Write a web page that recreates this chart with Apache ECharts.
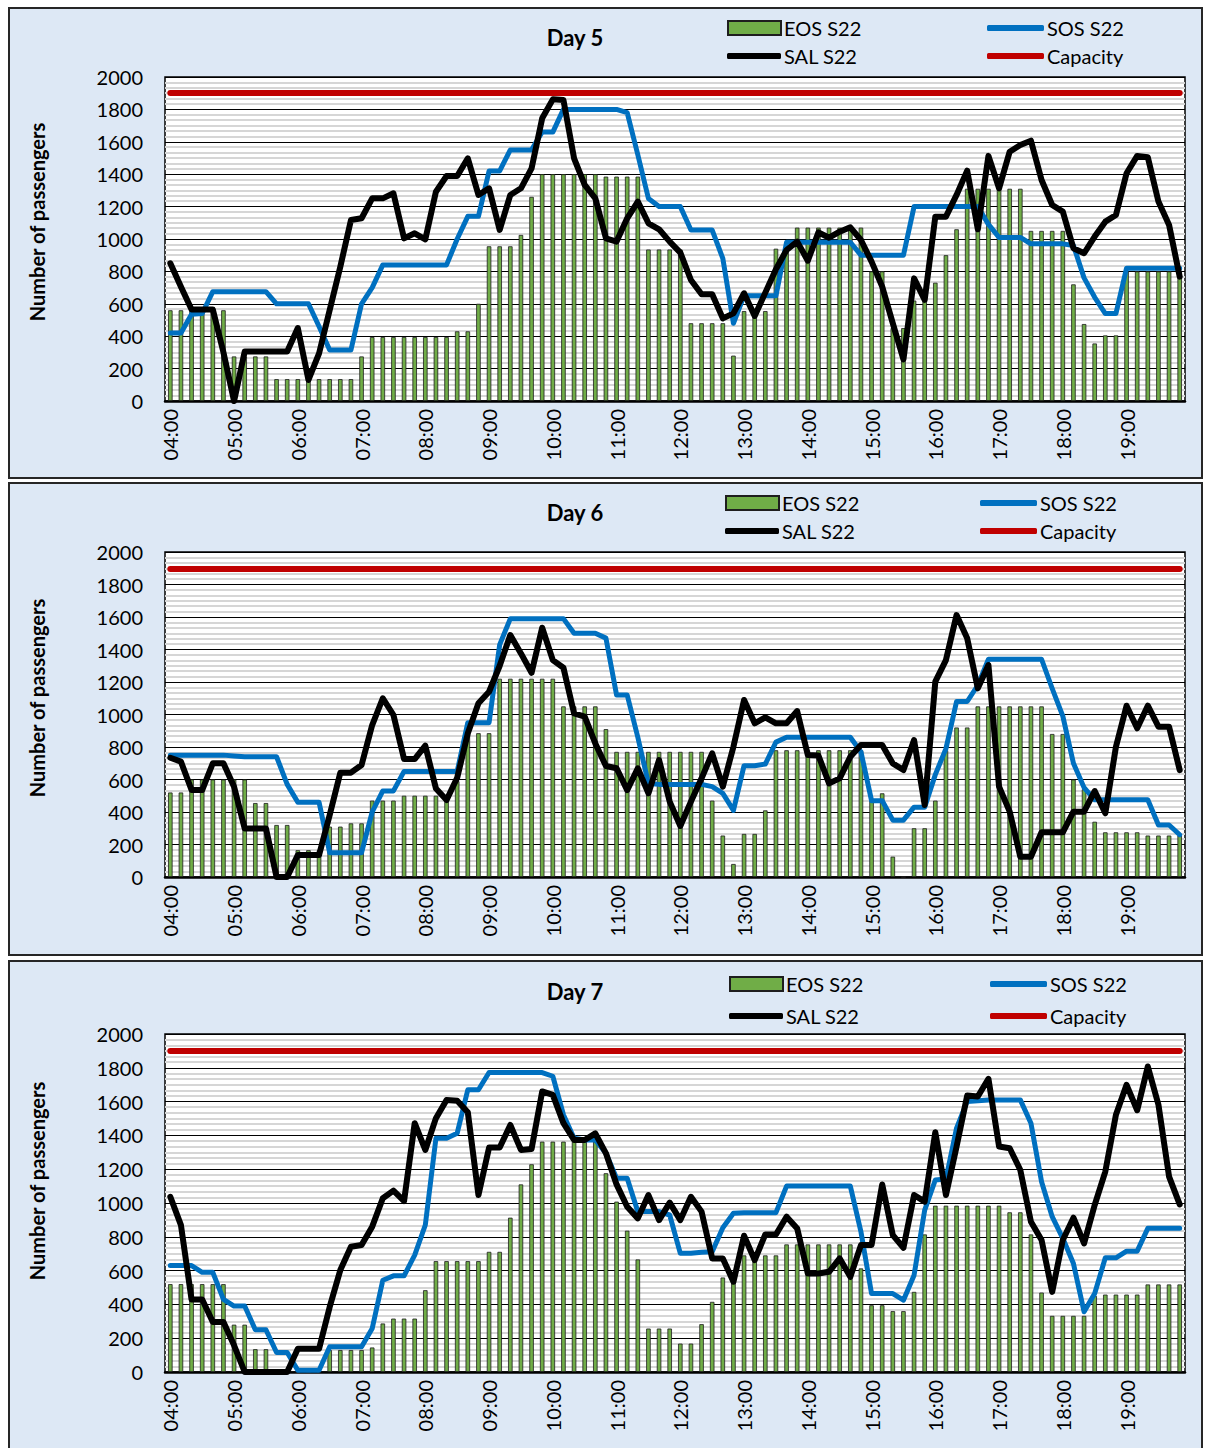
<!DOCTYPE html>
<html>
<head>
<meta charset="utf-8">
<script src="https://cdn.jsdelivr.net/npm/echarts@6/dist/echarts.min.js"></script>
<style>
  html, body { margin: 0; padding: 0; background: #fff; }
  #wrap { position: relative; width: 1215px; height: 1448px; overflow: hidden; }
  .panel { position: absolute; left: 8px; width: 1195px; box-sizing: border-box; background: #dde8f5; border: 2px solid #262626; }
  #chart { position: absolute; left: 0; top: 0; width: 1215px; height: 1448px; }
</style>
</head>
<body>
<div id="wrap">
  <div class="panel" style="top:7px;height:472px"></div>
  <div class="panel" style="top:482px;height:474px"></div>
  <div class="panel" style="top:960px;height:500px"></div>
  <div id="chart"></div>
</div>
<script>
// 10 minute slots, 04:00 .. 19:50
var times = [];
for (var h = 4; h < 20; h++) {
  for (var m = 0; m < 60; m += 10) {
    times.push((h < 10 ? '0' : '') + h + ':' + (m < 10 ? '0' : '') + m);
  }
}
var dayTitles = ['Day 5', 'Day 6', 'Day 7'];
var capacity = 1900;

// Day 5
var day5Eos = [560,560,560,560,560,560,275,275,275,275,135,135,135,135,135,135,135,135,275,395,395,395,395,395,395,395,395,430,430,600,955,955,
  955,1025,1260,1400,1400,1400,1400,1400,1400,1385,1385,1385,1385,935,935,935,935,480,480,480,480,280,555,555,555,940,940,1070,1070,1070,1070,1070,
  1070,1070,800,800,450,450,620,660,730,900,1060,1310,1310,1310,1310,1310,1310,1050,1050,1050,1050,720,475,355,405,405,800,800,800,800,800,800];
var day5Sos = [420,420,535,540,675,675,675,675,675,675,600,600,600,600,460,315,315,315,600,700,840,840,840,840,840,840,840,1000,1140,1140,1420,1420,
  1550,1550,1550,1660,1660,1800,1800,1800,1800,1800,1800,1780,1520,1250,1200,1200,1200,1055,1055,1055,880,480,650,650,650,650,980,980,980,980,980,980,
  980,900,900,900,900,900,1200,1200,1200,1200,1200,1200,1200,1090,1010,1010,1010,970,970,970,970,960,760,640,540,540,820,820,820,820,820,820];
var day5Sal = [850,705,565,565,565,300,0,305,305,305,305,305,450,130,294,562,829,1117,1128,1251,1251,1282,1004,1035,998,1292,1389,1389,1498,1272,1313,1056,
  1272,1313,1436,1745,1862,1858,1498,1334,1251,1004,984,1128,1231,1097,1060,984,916,747,659,659,510,541,665,525,669,813,932,984,866,1041,1008,1045,
  1072,994,860,706,479,257,757,624,1138,1138,1272,1422,1060,1513,1313,1539,1580,1607,1364,1210,1169,943,912,1015,1107,1148,1406,1513,1505,1231,1087,768];

// Day 6
var day6Eos = [520,520,600,600,600,600,600,600,455,455,320,320,165,165,165,310,310,330,330,470,470,470,500,500,500,500,500,590,885,885,885,1220,
  1220,1220,1220,1220,1220,1050,1050,1050,1050,910,770,770,770,770,770,770,770,770,770,470,255,80,265,265,410,780,780,780,780,780,780,780,
  780,780,470,515,125,0,300,300,470,780,920,920,1050,1050,1050,1050,1050,1050,1050,880,880,600,540,340,275,275,275,275,255,255,255,255];
var day6Sos = [750,750,750,750,750,750,745,740,740,740,740,570,460,460,460,150,150,150,150,400,530,530,650,650,650,650,650,650,950,950,950,1430,
  1590,1590,1590,1590,1590,1590,1500,1500,1500,1470,1120,1120,860,575,570,570,570,570,570,556,515,410,685,685,695,830,860,860,860,860,860,860,
  860,770,470,470,350,350,430,430,630,790,1080,1080,1180,1340,1340,1340,1340,1340,1340,1160,990,700,550,475,475,475,475,475,475,320,320,260];
var day6Sal = [734,710,535,535,700,700,556,299,299,299,0,0,135,135,135,381,642,642,689,935,1100,997,726,726,808,545,474,611,884,1069,1140,1300,
  1489,1376,1257,1534,1335,1288,1007,987,822,683,669,535,669,515,720,464,314,464,607,761,556,802,1089,946,982,946,946,1021,751,747,576,607,
  740,812,812,812,699,658,843,443,1202,1335,1612,1469,1161,1304,556,402,125,125,275,275,275,402,402,529,392,802,1054,915,1054,925,925,658];

// Day 7
var day7Eos = [520,520,520,520,520,520,280,280,135,135,0,0,0,0,0,130,130,130,130,145,287,316,316,316,484,656,656,656,656,656,711,711,
  913,1110,1229,1363,1363,1363,1363,1363,1363,1176,1008,836,666,257,257,257,168,168,283,415,559,560,690,690,690,690,755,755,755,755,755,755,
  755,613,395,395,360,360,474,814,984,984,984,984,984,984,984,945,945,814,470,332,332,332,332,450,458,458,458,458,518,518,518,518];
var day7Sos = [630,630,630,590,590,430,390,390,250,250,115,115,10,10,10,150,150,150,150,257,543,569,569,692,870,1383,1383,1413,1670,1670,1772,1772,
  1772,1772,1772,1772,1750,1522,1383,1373,1373,1294,1146,1146,949,949,949,929,702,702,708,711,854,939,943,943,943,943,1100,1100,1100,1100,1100,1100,
  1100,830,464,464,464,425,573,958,1136,1142,1443,1601,1605,1610,1610,1610,1610,1472,1126,919,791,642,356,464,676,676,715,715,850,850,850,850];
var day7Sal = [1037,869,429,429,296,296,158,0,0,0,0,0,138,138,138,385,603,741,751,860,1028,1073,1012,1472,1314,1502,1610,1605,1537,1047,1328,1328,
  1462,1314,1320,1660,1640,1472,1373,1373,1412,1294,1110,978,909,1047,899,1002,899,1037,949,672,672,534,806,662,814,814,919,849,583,583,593,672,
  563,751,751,1110,810,735,1047,1008,1419,1047,1334,1636,1630,1735,1334,1324,1195,889,781,474,781,913,761,988,1186,1522,1699,1549,1808,1581,1156,992];

var eosData = [day5Eos, day6Eos, day7Eos];
var sosData = [day5Sos, day6Sos, day7Sos];
var salData = [day5Sal, day6Sal, day7Sal];

var FONT = 'Lato';
var layout = [
  { top: 77,   height: 324, titleY: 37,  nameY: 222,  row1: 30,  row2: 58,   eosX: 727, sosX: 987 },
  { top: 552,  height: 325, titleY: 512, nameY: 698,  row1: 505, row2: 533,  eosX: 725, sosX: 980 },
  { top: 1034, height: 338, titleY: 991, nameY: 1181, row1: 986, row2: 1018, eosX: 729, sosX: 990 }
];

var grids = [], xAxes = [], yAxes = [], series = [], legends = [], graphics = [];

function legendItem(name, left, centerY, isLine, w) {
  return {
    data: [name], left: left, top: centerY - 12, padding: 0,
    itemWidth: w, itemHeight: isLine ? 6 : 14, itemGap: 0,
    icon: isLine ? 'roundRect' : 'rect',
    textStyle: { fontFamily: FONT, fontSize: 20, color: '#000', padding: [0, 0, 0, -2] }
  };
}

layout.forEach(function (p, k) {
  grids.push({
    left: 165, top: p.top, width: 1020, height: p.height,
    show: true, backgroundColor: '#fff', borderColor: '#000', borderWidth: 1.5
  });
  xAxes.push({
    gridIndex: k, type: 'category', data: times, boundaryGap: true,
    axisLine: { lineStyle: { color: '#000', width: 2.5 } },
    axisTick: { interval: 5, length: 6, lineStyle: { color: '#000', width: 1.5 } },
    axisLabel: { interval: 5, rotate: 90, margin: 8, fontFamily: FONT, fontSize: 20, color: '#000' },
    splitLine: { show: false }
  });
  yAxes.push({
    gridIndex: k, type: 'value', min: 0, max: 2000, interval: 200,
    axisLine: { show: false }, axisTick: { show: false },
    axisLabel: { margin: 22, fontFamily: FONT, fontSize: 20, color: '#000',
      formatter: function (v) { return String(v); } },
    splitLine: { lineStyle: { color: '#000', width: 1 } },
    minorTick: { show: false, splitNumber: 6 },
    minorSplitLine: { show: true, lineStyle: { color: '#d6d6d6', width: 2 } }
  });
  series.push({
    name: 'EOS S22', type: 'bar', xAxisIndex: k, yAxisIndex: k, data: eosData[k],
    barWidth: 4.5,
    itemStyle: { color: '#70ad47', borderColor: '#1e1e1e', borderWidth: 0.8 }
  });
  series.push({
    name: 'SOS S22', type: 'line', xAxisIndex: k, yAxisIndex: k, data: sosData[k],
    symbol: 'none', color: '#0070c0',
    lineStyle: { width: 5, color: '#0070c0', cap: 'round', join: 'round' }
  });
  series.push({
    name: 'SAL S22', type: 'line', xAxisIndex: k, yAxisIndex: k, data: salData[k],
    symbol: 'none', color: '#000',
    lineStyle: { width: 6, color: '#000', cap: 'round', join: 'round' }
  });
  series.push({
    name: 'Capacity', type: 'line', xAxisIndex: k, yAxisIndex: k, data: [],
    symbol: 'none', color: '#c00000',
    lineStyle: { width: 6, color: '#c00000' },
    markLine: {
      silent: true, symbol: ['none', 'none'], label: { show: false },
      lineStyle: { color: '#c00000', width: 6, type: 'solid', cap: 'round' },
      data: [[{ coord: [times[0], capacity] }, { coord: [times[times.length - 1], capacity] }]]
    }
  });
  legends.push(legendItem('EOS S22', p.eosX, p.row1, false, 53));
  legends.push(legendItem('SOS S22', p.sosX, p.row1, true, 57));
  legends.push(legendItem('SAL S22', p.eosX, p.row2, true, 54));
  legends.push(legendItem('Capacity', p.sosX, p.row2, true, 57));
  graphics.push({
    type: 'text', x: 575, y: p.titleY,
    style: { text: dayTitles[k], fontFamily: FONT, fontSize: 22, fontWeight: 'bold', fill: '#000',
      textAlign: 'center', textVerticalAlign: 'middle' }
  });
  graphics.push({
    type: 'text', x: 37, y: p.nameY, rotation: Math.PI / 2,
    style: { text: 'Number of passengers', fontFamily: FONT, fontSize: 20, fontWeight: 'bold', fill: '#000',
      textAlign: 'center', textVerticalAlign: 'middle' }
  });
});

var myChart = echarts.init(document.getElementById('chart'), null, { renderer: 'svg' });
var option = {
  animation: false,
  backgroundColor: 'transparent',
  grid: grids,
  xAxis: xAxes,
  yAxis: yAxes,
  legend: legends,
  graphic: graphics,
  series: series
};
myChart.setOption(option);
window.addEventListener('resize', function () { myChart.resize(); });
</script>
</body>
</html>
